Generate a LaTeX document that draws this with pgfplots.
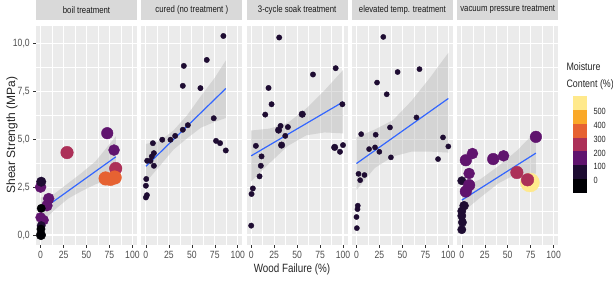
\documentclass[border=0pt]{standalone}
\usepackage{pgfplots}
\pgfplotsset{compat=1.18}
\usepackage{fontspec}
\setmainfont[FakeStretch=0.82]{Liberation Sans}
\newfontfamily\ylabfont{Liberation Sans}
\definecolor{bgg}{HTML}{EBEBEB}
\definecolor{stripc}{HTML}{D9D9D9}
\definecolor{tickc}{HTML}{333333}
\definecolor{labc}{HTML}{4D4D4D}
\definecolor{ggblue}{HTML}{3366FF}
\definecolor{c0}{RGB}{0,0,4}
\definecolor{c1}{RGB}{30,12,50}
\definecolor{c2}{RGB}{96,20,110}
\definecolor{c3}{RGB}{172,48,88}
\definecolor{c4}{RGB}{230,98,50}
\definecolor{c5}{RGB}{250,168,40}
\definecolor{c6}{RGB}{255,233,140}
\pgfplotsset{
 facet/.style={
  scale only axis, width=101pt, height=219pt,
  xmin=-5, xmax=105, ymin=-0.52, ymax=10.9,
  axis background/.style={fill=bgg},
  axis line style={draw=none},
  grid=both,
  major grid style={white, line width=1.1pt},
  minor grid style={white, line width=0.5pt},
  xtick={0,25,50,75,100}, minor xtick={12.5,37.5,62.5,87.5},
  ytick={0,2.5,5,7.5,10}, minor ytick={1.25,3.75,6.25,8.75},
  tick align=outside, major tick length=2.75pt, minor tick length=0pt,
  tick style={color=tickc, line width=0.5pt},
  xtick pos=lower, ytick pos=left,
  /pgf/number format/assume math mode=true,
  xticklabel style={font=\fontsize{10.5}{11}\selectfont, text=labc},
  yticklabel style={font=\fontsize{10.5}{11}\selectfont, text=labc},
  title style={at={(0.5,1)}, anchor=south, fill=stripc, minimum width=101pt,
    minimum height=20pt, inner sep=0pt, font=\fontsize{9.5}{10}\selectfont, text=black!90},
 },
 pts/.style={scatter, only marks, mark=*, point meta=0,
  visualization depends on={\thisrow{s}\as\ms},
  visualization depends on={value \thisrow{c}\as\cc},
  scatter/use mapped color={draw=c\cc, fill=c\cc},
  scatter/@pre marker code/.append style={/tikz/mark size=\ms}},
 rib/.style={fill=gray!60, fill opacity=0.4, draw=none},
 fit/.style={color=ggblue, line width=1.2pt},
}
\begin{document}
\begin{tikzpicture}
\path[use as bounding box] (0,0) rectangle (613pt,287pt);
% Panel 1
\begin{axis}[facet, at={(36pt,42pt)}, anchor=south west, title={boil treatment},
  yticklabels={{0,0},{2,5},{5,0},{7,5},{10,0}}]
\addplot[pts] table[x=x,y=y] {
x y c s
81.8 3.47 3 6.3
28.8 4.30 3 6.3
72.6 5.31 2 5.8
80.0 4.43 2 5.5
76.0 2.90 4 6.3
70.8 2.95 4 6.8
80.7 3.00 4 6.8
0.0 2.50 2 5.5
0.7 2.78 1 4.8
8.8 1.90 2 5.5
6.9 1.53 2 5.5
0.7 1.39 0 4.2
0.0 0.92 2 5
3.3 0.78 2 5
0.7 0.49 1 4.2
0.4 0.31 0 4.2
0.4 0.00 0 4.8
};
\addplot[rib] coordinates {(0,1.95)(15,2.15)(30,2.7)(45,3.25)(60,3.85)(82,5.15)(82,3.0)(60,2.65)(45,2.3)(30,1.9)(15,1.3)(0,0.6)} -- cycle;
\addplot[fit] coordinates {(0,1.27)(82,4.08)};
\end{axis}
% Panel 2
\begin{axis}[facet, at={(141.3pt,42pt)}, anchor=south west, title={cured (no treatment )}, ymajorticks=false]
\addplot[pts] table[x=x,y=y] {
x y c s
84.4 10.38 1 2.7
66.3 9.13 1 2.7
41.3 8.82 1 2.7
40.2 7.78 1 2.7
59.4 7.66 1 2.7
73.9 6.09 1 2.7
45.7 5.73 1 2.7
40.2 5.49 1 2.7
31.9 5.17 1 2.7
26.8 4.97 1 2.7
17.8 4.97 1 2.7
76.4 4.91 1 2.7
80.8 4.79 1 2.7
87.0 4.41 1 2.7
7.6 4.79 1 2.7
8.7 4.27 1 2.7
6.5 4.10 1 2.7
1.4 3.87 1 2.7
5.0 3.87 1 2.7
8.7 3.61 1 2.7
0.4 2.92 1 2.7
0.0 2.57 1 2.7
1.1 2.08 1 2.7
0.0 1.96 1 2.7
};
\addplot[rib] coordinates {(0,4.75)(15,4.9)(30,5.45)(45,6.25)(60,7.25)(75,8.2)(87,9.1)(87,6.1)(75,5.9)(60,5.6)(45,5.05)(30,4.45)(15,3.6)(0,2.75)} -- cycle;
\addplot[fit] coordinates {(0,3.58)(87,7.64)};
\end{axis}
% Panel 3
\begin{axis}[facet, at={(246.6pt,42pt)}, anchor=south west, title={3-cycle soak treatment}, ymajorticks=false]
\addplot[pts] table[x=x,y=y] {
x y c s
30.5 10.30 1 2.7
92.0 8.70 1 2.7
67.3 8.37 1 2.7
18.9 7.67 1 2.7
22.2 6.82 1 2.7
99.3 6.82 1 2.7
15.3 6.28 1 2.7
55.6 6.30 1 3.3
40.0 5.63 1 2.7
32.0 5.69 1 2.7
29.8 5.47 1 3.3
37.1 5.17 1 2.7
33.1 4.69 1 3.3
5.1 4.65 1 2.7
11.3 4.10 1 2.7
10.5 3.61 1 2.7
9.1 3.06 1 2.7
90.9 4.57 1 3.3
96.7 4.34 1 2.7
100.0 4.69 1 2.7
1.8 2.43 1 2.7
0.4 2.14 1 2.7
0.0 0.49 1 2.7
};
\addplot[rib] coordinates {(0,5.45)(20,5.55)(40,5.85)(60,6.6)(80,7.55)(100,8.6)(100,5.3)(80,5.35)(60,5.2)(40,4.65)(20,3.75)(0,2.8)} -- cycle;
\addplot[fit] coordinates {(0,4.13)(100,6.94)};
\end{axis}
% Panel 4
\begin{axis}[facet, at={(351.9pt,42pt)}, anchor=south west, title={elevated temp. treatment}, ymajorticks=false]
\addplot[pts] table[x=x,y=y] {
x y c s
29.2 10.33 1 2.6
68.6 8.65 1 2.6
44.8 8.50 1 2.6
22.4 7.95 1 2.6
32.9 7.34 1 2.6
65.3 6.13 1 2.6
36.5 5.61 1 2.6
5.1 5.26 1 2.6
20.9 5.23 1 2.6
94.2 5.09 1 2.6
13.7 4.48 1 2.6
20.2 4.57 1 2.6
24.9 4.34 1 2.6
37.5 4.05 1 2.6
100.0 4.62 1 2.6
88.8 3.96 1 2.6
2.2 3.19 1 2.6
8.7 3.13 1 2.6
4.0 2.86 1 2.6
1.4 1.53 1 2.6
1.1 1.35 1 2.6
0.0 0.94 1 2.6
0.4 0.36 1 2.6
};
\addplot[rib] coordinates {(0,5.1)(20,5.5)(40,6.0)(60,7.0)(80,8.2)(100,9.5)(100,4.3)(80,4.35)(60,4.35)(40,4.1)(20,3.5)(0,2.35)} -- cycle;
\addplot[fit] coordinates {(0,3.73)(100,7.12)};
\end{axis}
% Panel 5
\begin{axis}[facet, at={(457.2pt,42pt)}, anchor=south west, title={vacuum pressure treatment}, ymajorticks=false]
\addplot[pts] table[x=x,y=y] {
x y c s
80.7 5.12 2 5.8
11.6 4.25 2 5.5
4.4 3.90 2 5.8
34.2 3.96 2 5.8
45.5 4.13 2 5.5
8.0 3.21 2 5.5
60.0 3.26 3 6.3
74.2 2.74 6 9.5
71.6 2.88 3 6.3
0.0 2.83 1 4.2
8.0 2.60 2 5.8
4.4 2.27 2 5.8
2.5 1.53 1 4.5
0.0 1.25 1 4.2
0.0 1.00 1 4.2
0.7 0.66 1 4.2
0.0 0.28 1 4.2
};
\addplot[rib] coordinates {(0,2.5)(20,2.9)(40,3.6)(60,4.4)(80.7,5.4)(80.7,3.2)(60,3.2)(40,2.7)(20,1.95)(0,1.15)} -- cycle;
\addplot[fit] coordinates {(0,1.82)(80.7,4.27)};
\end{axis}
% axis titles
\node[rotate=90, font=\ylabfont\fontsize{12}{14}\selectfont, text=black!85] at (12pt,152pt) {Shear Strength (MPa)};
\node[font=\fontsize{12}{14}\selectfont, text=black!85] at (292pt,18pt) {Wood Failure (\%)};
% legend
\node[anchor=west, font=\fontsize{10.8}{12}\selectfont, text=black!85] at (563pt,220pt) {Moisture};
\node[anchor=west, font=\fontsize{10.8}{12}\selectfont, text=black!85] at (563pt,202pt) {Content (\%)};
\fill[c6] (573pt,191pt) rectangle (587pt,177.14pt);
\fill[c5] (573pt,177.14pt) rectangle (587pt,163.29pt);
\fill[c4] (573pt,163.29pt) rectangle (587pt,149.43pt);
\fill[c3] (573pt,149.43pt) rectangle (587pt,135.57pt);
\fill[c2] (573pt,135.57pt) rectangle (587pt,121.71pt);
\fill[c1] (573pt,121.71pt) rectangle (587pt,107.86pt);
\fill[c0] (573pt,107.86pt) rectangle (587pt,94pt);
\foreach \v/\yy in {500/177.14,400/163.29,300/149.43,200/135.57,100/121.71,0/107.86}
  \node[anchor=west, font=\fontsize{9}{10}\selectfont, text=black!85] at (590pt,\yy pt-1.5pt) {\v};
\end{tikzpicture}
\end{document}
